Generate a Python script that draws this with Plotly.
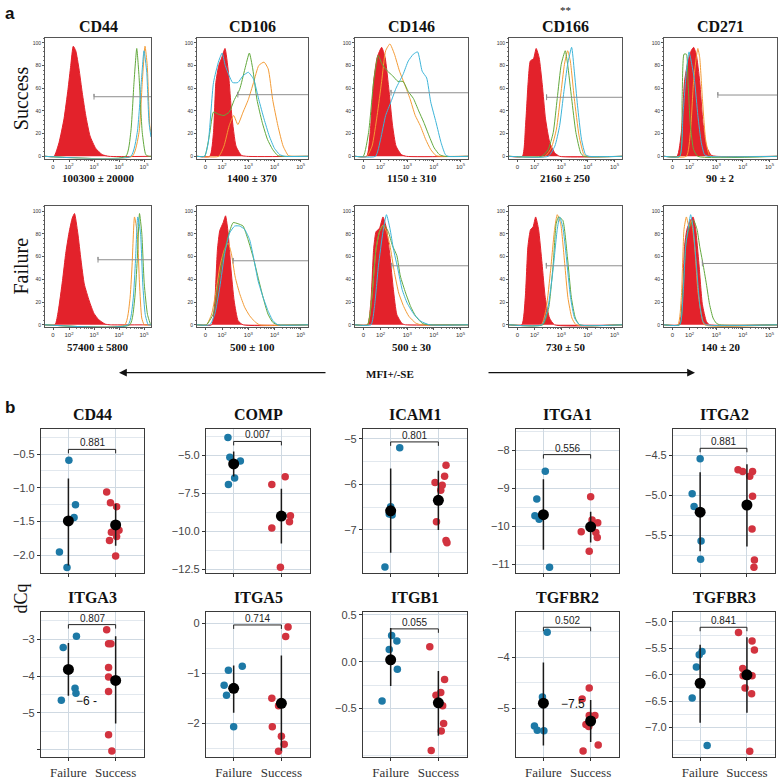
import plotly.graph_objects as go

# ---------------- panel a: flow cytometry overlays ----------------
# x = fluorescence in log10 display units (0 tick sits at 1.36), y = % of max
markers = ["CD44", "CD106", "CD146", "CD166", "CD271"]
marker_marks = ["", "", "", "**", ""]
success_mfi = ["100300 ± 20000", "1400 ± 370", "1150 ± 310", "2160 ± 250", "90 ± 2"]
failure_mfi = ["57400 ± 5800", "500 ± 100", "500 ± 30", "730 ± 50", "140 ± 20"]
success_gate_start = [3.0, 2.6, 2.39, 2.45, 3.06]
success_gate_level = [52.5, 54.3, 56, 52, 54]
failure_gate_start = [3.16, 2.42, 2.42, 2.44, 2.48]
failure_gate_level = [57.3, 56.4, 52, 52, 54]

success_iso = [
    [(1.40, 0), (1.60, 12), (1.80, 33), (1.96, 59), (2.07, 80), (2.17, 97), (2.27, 93), (2.40, 77), (2.53, 56), (2.67, 36), (2.84, 18), (3.07, 7), (3.33, 1.5), (3.60, 0)],
    [(1.53, 0), (1.67, 21), (1.76, 65), (1.87, 80), (1.97, 86), (2.11, 95), (2.24, 74), (2.37, 36), (2.53, 9), (2.73, 1), (2.93, 0)],
    [(1.48, 0), (1.61, 21), (1.74, 66), (1.87, 87), (2.04, 96), (2.17, 87), (2.32, 57), (2.45, 27), (2.58, 9), (2.78, 1.5), (2.97, 0)],
    [(1.54, 0), (1.66, 27), (1.76, 66), (1.84, 84), (1.96, 86), (2.06, 95), (2.17, 87), (2.29, 63), (2.41, 33), (2.57, 12), (2.76, 3), (2.94, 0)],
    [(1.53, 0), (1.69, 21), (1.81, 66), (1.94, 84), (2.06, 93), (2.15, 96), (2.25, 90), (2.38, 66), (2.50, 30), (2.63, 9), (2.81, 1), (3.0, 0)],
]
success_blue = [
    [(4.47, 0), (4.73, 21), (4.89, 65), (5.0, 93), (5.11, 74), (5.20, 30), (5.28, 17)],
    [(1.33, 0), (1.47, 12), (1.67, 65), (1.87, 84), (2.0, 91), (2.12, 80), (2.27, 71), (2.40, 65), (2.60, 65), (2.80, 71), (3.0, 74), (3.20, 68), (3.40, 50), (3.60, 33), (3.80, 18), (4.0, 7), (4.20, 1.5), (4.40, 0)],
    [(1.81, 0), (2.0, 15), (2.19, 36), (2.39, 48), (2.58, 60), (2.84, 72), (3.04, 84), (3.23, 90), (3.39, 92), (3.56, 75), (3.73, 69), (3.88, 48), (4.08, 30), (4.27, 12), (4.43, 1.5), (4.53, 0)],
    [(2.51, 0), (2.76, 9), (2.94, 27), (3.10, 57), (3.24, 81), (3.39, 96), (3.49, 75), (3.61, 45), (3.76, 15), (3.91, 1.5), (4.04, 0)],
    [(1.63, 0), (1.75, 36), (1.88, 75), (1.98, 92), (2.06, 84), (2.19, 66), (2.31, 36), (2.44, 12), (2.56, 1.5), (2.69, 0)],
]
success_green = [
    [(4.27, 0), (4.47, 21), (4.60, 65), (4.71, 95), (4.80, 71), (4.93, 21), (5.07, 1.5), (5.20, 0)],
    [(1.33, 0), (1.53, 21), (1.67, 39), (1.87, 37), (2.07, 36), (2.27, 39), (2.47, 50), (2.67, 59), (2.87, 77), (3.04, 91), (3.17, 77), (3.33, 50), (3.53, 30), (3.73, 15), (3.93, 6), (4.13, 0.6), (4.33, 0)],
    [(1.35, 0), (1.55, 21), (1.74, 66), (1.91, 89), (2.06, 81), (2.26, 75), (2.45, 71), (2.65, 66), (2.84, 66), (3.04, 57), (3.23, 51), (3.43, 40), (3.62, 30), (3.82, 18), (4.01, 7.5), (4.21, 1.5), (4.40, 0)],
    [(2.27, 0), (2.51, 6), (2.70, 21), (2.85, 51), (3.0, 81), (3.15, 93), (3.24, 81), (3.39, 51), (3.55, 21), (3.73, 3), (3.85, 0)],
    [(1.63, 0), (1.72, 51), (1.79, 90), (1.88, 90), (1.94, 66), (2.03, 27), (2.15, 6), (2.31, 0)],
]
success_orange = [
    [(4.53, 0), (4.80, 21), (4.93, 65), (5.04, 97), (5.13, 80), (5.23, 27), (5.28, 21)],
    [(1.87, 0), (2.07, 9), (2.27, 27), (2.44, 36), (2.60, 28), (2.80, 39), (3.0, 50), (3.20, 65), (3.40, 80), (3.60, 83), (3.76, 77), (3.93, 50), (4.13, 27), (4.33, 9), (4.53, 0.6), (4.67, 0)],
    [(1.48, 0), (1.68, 9), (1.87, 36), (2.04, 66), (2.19, 93), (2.35, 99), (2.52, 90), (2.71, 75), (2.91, 63), (3.10, 51), (3.30, 36), (3.49, 27), (3.69, 15), (3.88, 6), (4.08, 0.6), (4.27, 0)],
    [(2.39, 0), (2.63, 7.5), (2.82, 24), (2.98, 54), (3.12, 81), (3.24, 93), (3.34, 84), (3.49, 51), (3.67, 18), (3.85, 1.5), (3.98, 0)],
    [(1.88, 0), (2.03, 21), (2.15, 66), (2.25, 87), (2.31, 95), (2.38, 87), (2.48, 51), (2.60, 15), (2.73, 1.5), (2.81, 0)],
]
failure_iso = [
    [(1.44, 0), (1.57, 12), (1.74, 39), (1.87, 63), (2.0, 81), (2.13, 94), (2.22, 98), (2.35, 81), (2.48, 57), (2.61, 36), (2.81, 21), (3.0, 10), (3.19, 4.5), (3.45, 0.6), (3.65, 0)],
    [(1.60, 0), (1.72, 21), (1.82, 66), (1.91, 83), (2.04, 90), (2.13, 96), (2.23, 81), (2.33, 51), (2.46, 21), (2.61, 3.6), (2.80, 0)],
    [(1.51, 0), (1.64, 22), (1.74, 67), (1.83, 82), (1.96, 85), (2.09, 95), (2.22, 85), (2.35, 61), (2.48, 31), (2.61, 9), (2.81, 1), (2.94, 0)],
    [(1.52, 0), (1.65, 24), (1.75, 69), (1.85, 84), (1.94, 86), (2.04, 95), (2.15, 84), (2.28, 54), (2.40, 24), (2.56, 6), (2.75, 0)],
    [(1.60, 0), (1.73, 24), (1.81, 69), (1.90, 84), (2.03, 92), (2.13, 95), (2.23, 84), (2.35, 54), (2.48, 18), (2.63, 3), (2.75, 0)],
]
failure_blue = [
    [(4.36, 0), (4.56, 21), (4.66, 57), (4.75, 95), (4.86, 81), (4.95, 36), (5.05, 9), (5.17, 0)],
    [(1.53, 0), (1.72, 9.5), (1.91, 33), (2.10, 63), (2.29, 81), (2.48, 87), (2.67, 87), (2.86, 84), (3.05, 75), (3.22, 57), (3.37, 39), (3.56, 24.5), (3.75, 12.5), (3.94, 3.6), (4.13, 0)],
    [(1.64, 0), (1.77, 16), (1.92, 52), (2.09, 82), (2.22, 97), (2.35, 85), (2.48, 67), (2.65, 49), (2.81, 31), (3.0, 19), (3.26, 9), (3.52, 3), (3.84, 0)],
    [(2.28, 0), (2.50, 15), (2.69, 48), (2.85, 84), (2.94, 95), (3.06, 86), (3.19, 60), (3.35, 24), (3.50, 6), (3.69, 0)],
    [(1.63, 0), (1.75, 24), (1.85, 69), (1.94, 84), (2.04, 97), (2.13, 86), (2.25, 54), (2.38, 18), (2.50, 3), (2.63, 0)],
]
failure_green = [
    [(4.43, 0), (4.62, 21), (4.73, 57), (4.82, 98), (4.91, 81), (5.01, 36), (5.14, 9), (5.27, 0)],
    [(1.40, 0), (1.66, 9.5), (1.85, 36), (2.04, 60), (2.23, 78), (2.42, 90), (2.61, 89), (2.80, 87), (2.99, 75), (3.18, 60), (3.37, 42), (3.56, 24.5), (3.75, 9.5), (3.94, 2), (4.13, 0)],
    [(1.51, 0), (1.66, 22), (1.83, 67), (1.96, 82), (2.13, 88), (2.29, 82), (2.44, 70), (2.61, 61), (2.74, 43), (2.94, 28), (3.13, 16), (3.32, 7.5), (3.58, 1), (3.84, 0)],
    [(2.31, 0), (2.53, 15), (2.70, 54), (2.81, 89), (2.90, 95), (3.06, 92), (3.23, 60), (3.38, 24), (3.53, 6), (3.69, 0)],
    [(1.63, 0), (1.75, 30), (1.88, 75), (2.0, 86), (2.15, 92), (2.28, 84), (2.38, 69), (2.50, 54), (2.63, 36), (2.75, 18), (2.88, 6), (3.0, 1.5), (3.13, 0)],
]
failure_orange = [
    [(4.23, 0), (4.43, 21), (4.52, 51), (4.62, 95), (4.73, 81), (4.82, 36), (4.91, 6), (5.01, 0)],
    [(1.40, 0), (1.60, 9.5), (1.75, 27.5), (1.91, 51), (2.08, 66), (2.23, 72), (2.35, 63), (2.50, 42), (2.67, 27.5), (2.86, 15.5), (3.05, 8), (3.24, 3), (3.43, 0)],
    [(1.51, 0), (1.66, 22), (1.83, 67), (1.96, 82), (2.09, 88), (2.22, 82), (2.35, 70), (2.52, 46), (2.68, 28), (2.87, 16), (3.06, 7.5), (3.32, 1.5), (3.52, 0)],
    [(2.25, 0), (2.44, 15), (2.60, 48), (2.75, 84), (2.85, 97), (2.98, 89), (3.13, 54), (3.25, 24), (3.40, 6), (3.56, 0)],
    [(1.56, 0), (1.69, 24), (1.79, 84), (1.88, 95), (1.98, 86), (2.06, 92), (2.19, 69), (2.31, 30), (2.44, 9), (2.56, 0)],
]

# ---------------- panel b: dCq per gene ----------------
genes = ["CD44", "COMP", "ICAM1", "ITGA1", "ITGA2", "ITGA3", "ITGA5", "ITGB1", "TGFBR2", "TGFBR3"]
p_values = ["0.881", "0.007", "0.801", "0.556", "0.881", "0.807", "0.714", "0.055", "0.502", "0.841"]
bracket_y = [-0.43, -4.09, -5.07, -8.12, -4.41, -2.6, -0.03, 0.35, -3.41, -5.1]

failure_dcq = [
    [-0.59, -1.25, -1.44, -1.95, -2.18],
    [-3.83, -5.13, -5.37, -6.5, -6.93],
    [-5.2, -6.49, -6.65, -6.67, -7.81],
    [-8.56, -9.29, -9.73, -9.82, -11.08],
    [-4.54, -4.98, -5.14, -5.57, -5.80],
    [-2.92, -3.22, -4.33, -4.47, -4.66],
    [-0.86, -0.94, -1.24, -1.44, -2.07],
    [0.28, 0.22, 0.13, -0.08, -0.42],
    [-3.51, -4.78, -5.35, -5.43, -5.44],
    [-5.56, -5.62, -5.85, -6.44, -7.34],
]
failure_jitter = [
    [0.01, 0.15, 0.12, -0.19, -0.03],
    [-0.12, -0.08, 0.14, 0.02, -0.11],
    [0.19, 0.0, -0.03, 0.03, -0.12],
    [0.04, -0.14, -0.18, -0.09, 0.13],
    [0.0, -0.17, -0.13, 0.02, 0.01],
    [0.17, -0.11, 0.14, 0.16, -0.15],
    [0.18, -0.11, -0.2, -0.15, 0.0],
    [0.02, 0.13, -0.03, 0.14, -0.18],
    [0.08, -0.02, -0.19, -0.13, 0.01],
    [0.04, -0.02, -0.08, -0.17, 0.15],
]
success_dcq = [
    [-1.06, -1.22, -1.28, -1.66, -1.63, -1.72, -1.78, -2.01],
    [-6.93, -6.41, -9.78, -9.0, -8.98, -9.37, -12.37],
    [-5.58, -5.82, -5.96, -6.02, -6.13, -6.82, -7.23, -7.28],
    [-9.23, -9.84, -9.91, -10.15, -10.17, -10.3, -10.66],
    [-4.68, -4.70, -4.70, -4.76, -5.01, -5.42, -5.81, -5.90],
    [-2.74, -3.12, -3.12, -3.77, -4.03, -4.42, -5.6, -6.04],
    [-0.07, -0.26, -1.5, -1.65, -2.07, -2.26, -2.42, -2.56],
    [0.16, -0.19, -0.33, -0.36, -0.47, -0.66, -0.74, -0.95],
    [-4.6, -4.82, -5.14, -5.14, -5.32, -5.36, -5.72, -5.84],
    [-5.2, -5.36, -5.53, -5.88, -6.02, -6.02, -6.25, -6.36, -7.45],
]
success_jitter = [
    [-0.19, -0.11, 0.02, -0.09, 0.07, 0.02, -0.13, 0.0],
    [-0.2, 0.08, -0.2, 0.0, 0.19, 0.17, -0.02],
    [0.16, 0.13, -0.07, 0.08, 0.05, -0.04, 0.16, 0.18],
    [0.0, 0.03, 0.15, -0.2, 0.11, 0.14, -0.03],
    [-0.19, -0.09, 0.12, 0.06, 0.12, 0.11, 0.16, 0.15],
    [-0.19, -0.15, -0.1, -0.15, -0.15, -0.15, -0.15, -0.08],
    [0.14, 0.09, -0.2, -0.06, -0.19, 0.0, 0.06, -0.06],
    [-0.18, 0.13, 0.05, -0.05, 0.09, 0.11, 0.06, -0.15],
    [-0.03, -0.18, 0.09, -0.03, -0.1, -0.04, 0.16, -0.16],
    [-0.18, 0.11, 0.16, -0.09, -0.08, 0.11, -0.04, 0.1, 0.06],
]
failure_mean = [-1.49, -5.57, -6.58, -9.70, -5.21, -3.82, -1.30, 0.02, -4.90, -6.16]
failure_low = [-2.15, -6.4, -7.5, -10.62, -5.70, -4.54, -1.79, -0.26, -5.73, -6.91]
failure_high = [-0.86, -4.75, -5.65, -8.77, -4.71, -3.1, -0.84, 0.36, -4.1, -5.43]
success_mean = [-1.55, -9.0, -6.35, -10.02, -5.12, -4.12, -1.60, -0.44, -5.25, -6.0]
success_low = [-1.86, -10.8, -7.0, -10.43, -5.64, -5.29, -2.55, -0.79, -5.66, -6.72]
success_high = [-1.235, -7.2, -5.7, -9.62, -4.61, -2.92, -0.64, -0.1, -4.84, -5.29]

y_ranges = [(-2.26, -0.13), (-12.74, -3.28), (-7.94, -4.79), (-11.23, -7.45), (-5.97, -4.17),
            (-6.21, -2.27), (-2.68, 0.22), (-1.02, 0.525), (-5.96, -3.12), (-7.56, -4.82)]
y_ticks = [[-0.5, -1.0, -1.5, -2.0], [-5.0, -7.5, -10.0, -12.5], [-5, -6, -7], [-8, -9, -10, -11],
           [-4.5, -5.0, -5.5], [-3, -4, -5, -6], [0, -1, -2], [0.5, 0.0, -0.5], [-4, -5],
           [-5.0, -5.5, -6.0, -6.5, -7.0]]
y_tick_text = [["−0.5", "−1.0", "−1.5", "−2.0"], ["−5.0", "−7.5", "−10.0", "−12.5"], ["−5", "−6", "−7"],
               ["−8", "−9", "−10", "−11"], ["−4.5", "−5.0", "−5.5"], ["−3", "−4", "−5", " "],
               ["0", "−1", "−2"], ["0.5", "0.0", "−0.5"], ["−4", "−5"],
               ["−5.0", "−5.5", "−6.0", "−6.5", "−7.0"]]
groups = ["Failure", "Success"]

# ---------------- drawing ----------------
W, H = 778, 780


def fx(p):
    return p / W


def fy(p):
    return 1 - p / H


def ax_ids(i):
    s = "" if i == 1 else str(i)
    return "xaxis" + s, "yaxis" + s, "x" + s, "y" + s


def note(x, y, text, size, family, **kw):
    d = dict(x=fx(x), y=fy(y), xref="paper", yref="paper", text=text, showarrow=False,
             xanchor="center", yanchor="middle", font=dict(family=family, size=size, color="#111"))
    d.update(kw)
    return d


X_MIN, X_MAX = 1.04, 5.28
iso_color = "#e3222b"
sample_colors = ["#3db4d8", "#62a83d", "#f39b36"]
serif = "Liberation Serif"
sans = "Liberation Sans"

fig = go.Figure()
layout = dict(width=W, height=H, margin=dict(l=0, r=0, t=0, b=0),
              paper_bgcolor="white", plot_bgcolor="white", showlegend=False)
annotations = []

flow_cols = [(45, 151), (197, 308), (355, 468), (509, 622), (664, 777)]
flow_rows = [(34, 156), (204, 326)]
minor_x = [a + b for a in (2, 3, 4) for b in (0.301, 0.477, 0.602, 0.699, 0.778, 0.845, 0.903, 0.954)] + [5.301]

flow_sets = [
    (success_iso, [success_orange, success_green, success_blue], success_gate_start, success_gate_level, success_mfi),
    (failure_iso, [failure_orange, failure_green, failure_blue], failure_gate_start, failure_gate_level, failure_mfi),
]
sample_order_colors = [sample_colors[2], sample_colors[1], sample_colors[0]]

for r, (iso, samples, g_start, g_level, mfi) in enumerate(flow_sets):
    top, bot = flow_rows[r]
    for c in range(5):
        i = r * 5 + c + 1
        xa, ya, xr, yr = ax_ids(i)
        left, right = flow_cols[c]
        xs, ys = zip(*iso[c])
        fig.add_trace(go.Scatter(x=[X_MIN, *xs, X_MAX], y=[0, *ys, 0], mode="lines",
                                 fill="tozeroy", fillcolor=iso_color,
                                 line=dict(color=iso_color, width=1, shape="spline", smoothing=0.5),
                                 xaxis=xr, yaxis=yr, hoverinfo="skip"))
        for curves, col in zip(samples, sample_order_colors):
            xs, ys = zip(*curves[c])
            xs, ys = list(xs), list(ys)
            if ys[0] == 0:
                xs, ys = [X_MIN] + xs, [0] + ys
            if ys[-1] == 0:
                xs, ys = xs + [X_MAX], ys + [0]
            fig.add_trace(go.Scatter(x=xs, y=ys, mode="lines",
                                     line=dict(color=col, width=1, shape="spline", smoothing=0.5),
                                     xaxis=xr, yaxis=yr, hoverinfo="skip"))
        gs, gl = g_start[c], g_level[c]
        fig.add_trace(go.Scatter(x=[gs, gs, gs, X_MAX], y=[gl - 2.5, gl + 2.5, gl, gl], mode="lines",
                                 line=dict(color="#8e8e8e", width=1), xaxis=xr, yaxis=yr, hoverinfo="skip"))
        layout[xa] = dict(domain=[fx(left), fx(right)], range=[X_MIN, X_MAX], anchor=yr,
                          showline=True, mirror=True, linecolor="#555", linewidth=1,
                          showgrid=False, zeroline=False,
                          tickmode="array", tickvals=[1.36, 2, 3, 4, 5],
                          ticktext=["0", "10<sup>2</sup>", "10<sup>3</sup>", "10<sup>4</sup>", "10<sup>5</sup>"],
                          ticks="outside", ticklen=2, tickcolor="#555",
                          tickfont=dict(family=sans, size=6, color="#333"),
                          minor=dict(tickvals=minor_x, ticks="outside", ticklen=1, tickcolor="#777"))
        layout[ya] = dict(domain=[fy(bot), fy(top)], range=[-2, 104.5], anchor=xr,
                          showline=True, mirror=True, linecolor="#555", linewidth=1,
                          showgrid=False, zeroline=False,
                          tickmode="array", tickvals=[0, 20, 40, 60, 80, 100],
                          ticks="outside", ticklen=2, tickcolor="#555",
                          tickfont=dict(family=sans, size=5, color="#333"),
                          minor=dict(tickmode="linear", tick0=0, dtick=4, ticks="outside", ticklen=1, tickcolor="#777"))
        cx = (left + right) / 2
        annotations.append(note(cx, bot + 20, f"<b>{mfi[c]}</b>", 11, serif))
        if r == 0:
            annotations.append(note(cx, 23, f"<b>{markers[c]}</b>", 16, serif))
            if marker_marks[c]:
                annotations.append(note(cx, 6, marker_marks[c], 11, serif))

annotations.append(note(21, 95, "Success", 20, serif, textangle=-90))
annotations.append(note(21, 265, "Failure", 20, serif, textangle=-90))

annotations.append(dict(x=fx(119), y=fy(372), xref="paper", yref="paper", text="", showarrow=True,
                        ax=208, ay=0, arrowhead=2, arrowsize=1.2, arrowwidth=1.3, arrowcolor="#111"))
annotations.append(dict(x=fx(695), y=fy(372), xref="paper", yref="paper", text="", showarrow=True,
                        ax=-208, ay=0, arrowhead=2, arrowsize=1.2, arrowwidth=1.3, arrowcolor="#111"))
annotations.append(note(390, 373, "<b>MFI+/-SE</b>", 11, serif))

# panel b
b_cols = [(41, 144), (206, 310), (363, 467), (516, 619), (673, 775)]
b_rows = [(429, 574), (614, 760)]
fail_color = "#1d79a6"
succ_color = "#d2333f"
grid_major = "#cfd9e2"
grid_minor = "#e2e8ee"

for g, gene in enumerate(genes):
    r, c = divmod(g, 5)
    i = 11 + g
    xa, ya, xr, yr = ax_ids(i)
    left, right = b_cols[c]
    top, bot = b_rows[r]
    lo, hi = y_ranges[g]

    fig.add_trace(go.Scatter(x=[1 + d for d in failure_jitter[g]], y=failure_dcq[g], mode="markers",
                             marker=dict(color=fail_color, size=7.5), xaxis=xr, yaxis=yr, hoverinfo="skip"))
    fig.add_trace(go.Scatter(x=[2 + d for d in success_jitter[g]], y=success_dcq[g], mode="markers",
                             marker=dict(color=succ_color, size=7.5), xaxis=xr, yaxis=yr, hoverinfo="skip"))
    for xc, l, h in ((1, failure_low[g], failure_high[g]), (2, success_low[g], success_high[g])):
        fig.add_trace(go.Scatter(x=[xc, xc], y=[l, h], mode="lines", line=dict(color="#1a1a1a", width=1.5),
                                 xaxis=xr, yaxis=yr, hoverinfo="skip"))
    fig.add_trace(go.Scatter(x=[1, 2], y=[failure_mean[g], success_mean[g]], mode="markers",
                             marker=dict(color="black", size=11), xaxis=xr, yaxis=yr, hoverinfo="skip"))
    tip = (hi - lo) * 4 / (bot - top)
    b = bracket_y[g]
    fig.add_trace(go.Scatter(x=[1, 1, 2, 2], y=[b - tip, b, b, b - tip], mode="lines",
                             line=dict(color="#222", width=1), xaxis=xr, yaxis=yr, hoverinfo="skip"))
    annotations.append(dict(x=1.5, y=b, xref=xr, yref=yr, text=p_values[g], showarrow=False,
                            xanchor="center", yanchor="bottom", yshift=-1,
                            font=dict(family=sans, size=10, color="#222")))

    ticks = y_ticks[g]
    step = abs(ticks[0] - ticks[1])
    layout[xa] = dict(domain=[fx(left), fx(right)], range=[0.42, 2.6], anchor=yr,
                      tickmode="array", tickvals=[1, 2], ticktext=groups, showticklabels=(r == 1),
                      ticks="outside", ticklen=3, tickcolor="#333",
                      tickfont=dict(family=serif, size=13, color="#333"),
                      showgrid=True, gridcolor=grid_major, gridwidth=1,
                      showline=True, mirror=True, linecolor="#3a3a3a", linewidth=1.2, zeroline=False)
    layout[ya] = dict(domain=[fy(bot), fy(top)], range=[lo, hi], anchor=xr,
                      tickmode="array", tickvals=ticks, ticktext=y_tick_text[g],
                      ticks="outside", ticklen=3, tickcolor="#333",
                      tickfont=dict(family=sans, size=11, color="#444"),
                      showgrid=True, gridcolor=grid_major, gridwidth=1,
                      minor=dict(tickmode="linear", tick0=ticks[0], dtick=step / 2, showgrid=True,
                                 gridcolor=grid_minor, gridwidth=0.8, ticks=""),
                      showline=True, mirror=True, linecolor="#3a3a3a", linewidth=1.2, zeroline=False)
    annotations.append(note((left + right) / 2, top - 15, f"<b>{gene}</b>", 16, serif))

# stray overlapping tick labels visible inside two panels of the original
annotations.append(dict(x=1.39, y=-4.68, xref="x16", yref="y16", text="−6 -", showarrow=False,
                        xanchor="center", font=dict(family=sans, size=12, color="#111")))
annotations.append(dict(x=1.63, y=-4.91, xref="x19", yref="y19", text="−7.5", showarrow=False,
                        xanchor="center", font=dict(family=sans, size=12, color="#111")))

annotations.append(note(21, 600, "dCq", 18, serif, textangle=-90))
annotations.append(note(3, 10, "<b>a</b>", 17, sans, xanchor="left"))
annotations.append(note(3, 407, "<b>b</b>", 17, sans, xanchor="left"))

layout["annotations"] = annotations
fig.update_layout(**layout)
# drop the browser's default page margin so the figure sits at the window's corner
fig.write_html("out.html", config={"displayModeBar": False},
               post_script="document.body.style.margin='0';")
